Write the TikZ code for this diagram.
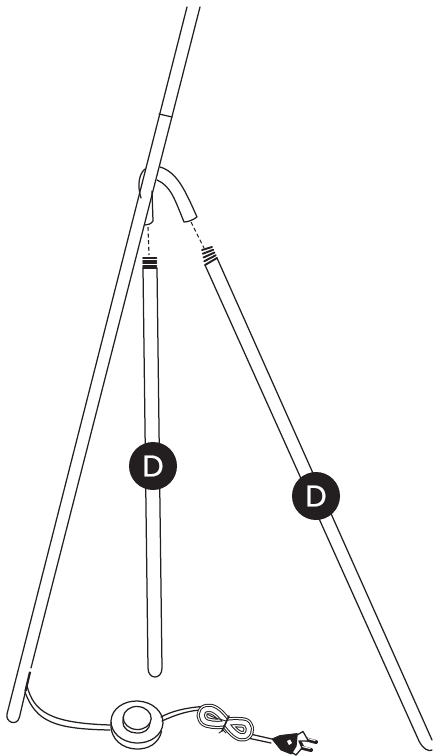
\documentclass[tikz,border=0pt]{standalone}
\usepackage{fontspec}
\usetikzlibrary{calc}
\setmainfont{Poppins}
\newfontfamily\badgefont[FakeBold=0.7]{Poppins}
\definecolor{ink}{HTML}{231F20}
\tikzset{
  ln/.style={draw=ink,line width=1.25pt,line cap=round,line join=round},
  thin ln/.style={draw=ink,line width=0.9pt,line cap=round,line join=round},
  thread/.style={draw=ink,line width=1.9pt,line cap=round},
  dash ln/.style={draw=ink,line width=1.1pt,dash pattern=on 4pt off 2.6pt},
  badge/.style={circle,fill=ink,draw=none,minimum size=48pt,inner sep=0pt,text=white,font=\badgefont\fontsize{30}{30}\selectfont},
  plugbody/.style={draw=ink,fill=ink,line width=0.8pt,line join=round},
  plugface/.style={draw=ink,fill=white,line width=1.3pt,line join=round},
  prongb/.style={draw=ink,line width=4pt,line cap=round},
  prongw/.style={draw=white,line width=1pt,line cap=round}
}
\def\coilpath{(226,722) .. controls (218,711) and (212,708) .. (207,709) .. controls (200,710) and (200,720) .. (207,722.5) .. controls (214,724.5) and (221,724) .. (226,723) .. controls (232,731) and (239,738.5) .. (245,736) .. controls (251,733) and (250,723) .. (243,722.5) .. controls (236,722) and (231,722) .. (226,723)}
\begin{document}
\begin{tikzpicture}[x=1pt,y=-1pt]
\useasboundingbox (0,0) rectangle (432,756);
% main pole
\draw[ln] (187,7) -- (7,714) .. controls (5,722) and (17,727) .. (19.5,717) -- (30,672);
\draw[ln] (31,668) -- (200,7);
\draw[ln] (159,114) -- (172,117);
% bracket
\draw[ln] (145,169) .. controls (139,174) and (137,185) .. (141,198);
\draw[ln] (152,191) -- (153,221) .. controls (151,224) and (148,225) .. (145,225);
\draw[ln] (160,167) .. controls (177,172) and (185,190) .. (197,217)
  .. controls (193,220) and (188,222) .. (184,222) .. controls (175,200) and (171,186) .. (157,180);
% dashes
\coordinate (da) at (148,227); \coordinate (db) at (149,255);
\coordinate (dc) at (191,222); \coordinate (dd) at (204,248);
\draw[dash ln] (da) -- (db);
\draw[dash ln] (dc) -- (dd);
% pole 1
\draw[ln] (143,268) -- (148,668) .. controls (148,680) and (162,680) .. (162,668) -- (157,268);
\foreach \y in {258,260.6,263.2,265.8,268.4}{\draw[thread] (143,\y) -- (156.5,\y);}
% pole 2
\draw[ln] (205,265) -- (419,741) .. controls (423,749) and (429,752) .. (432,750);
\draw[ln] (217,258) -- (432,740);
\foreach \t in {0,.25,.5,.75,1}{\draw[thread] ($(202,250)!\t!(205,265)$) -- ($(212,247)!\t!(217,258)$);}
% badges
\node[badge] (d1) at (153,466) {D};
\node[badge] (d2) at (316,496) {D};
% cord from pole
\draw[draw=ink,line width=2.2pt] (30,672) -- (25.5,691);
\draw[ln] (27,686) .. controls (34,712) and (50,723) .. (110,725);
\draw[ln] (25,692) .. controls (36,722) and (55,729) .. (110,730);
% button
\begin{scope}[rotate around={-3:(137,722)}]
\draw[ln] (111,724) .. controls (111,742) and (125,749) .. (137,749) .. controls (150,749) and (160,742) .. (162,730);
\draw[ln,fill=white] (137,722) ellipse (26 and 21);
\draw[ln,fill=white] (123,722) .. controls (123,730) and (130,733) .. (137,733) .. controls (145,733) and (150,729) .. (150,722) -- (150,718) -- (123,718) -- cycle;
\draw[ln,fill=white] (137,718) ellipse (14 and 11.5);
\end{scope}
% cord to coil
\draw[ln] (161,717) .. controls (172,711) and (185,708) .. (202,706.5);
\draw[ln] (162,721) .. controls (173,716) and (186,711) .. (200,710);
% cord to plug
\draw[ln] (250,734) -- (272,739);
\draw[ln] (250,738.5) -- (271,743);
% coil
\draw[draw=ink,line width=10.5pt,line join=round] \coilpath;
\draw[draw=white,line width=8.5pt,line join=round] \coilpath;
\draw[draw=ink,line width=6pt,line join=round] \coilpath;
\draw[draw=white,line width=4pt,line join=round] \coilpath;
\draw[thin ln] (207,714) .. controls (213,718) and (220,719) .. (226,721);
\draw[draw=ink,line width=1.6pt,line cap=round] (229,716) -- (222,731);
\draw[thin ln] (222,731) -- (219,733);\draw[thin ln] (222,729) -- (226,733);
% plug
\draw[plugbody] (272,739) -- (280,735.5) -- (297,733.5) -- (304,747) -- (291,754) -- (281,750) -- cycle;
\draw[prongb] (303,738.5) -- (316,742);
\draw[prongw] (304,737.5) -- (315,740.5);
\draw[prongb] (299,747) -- (311,750);
\draw[prongw] (300,746) -- (310,748.5);
\draw[plugface] (297,735) -- (303,731.5) -- (308.5,741) -- (303,741) -- (299,741) -- (302,748) -- (296,755) -- (292,752.5) -- (296,746) -- cycle;
\fill[white] (287,741) -- (290,739.5) -- (292,743) -- (289,745) -- cycle;
\end{tikzpicture}
\end{document}
